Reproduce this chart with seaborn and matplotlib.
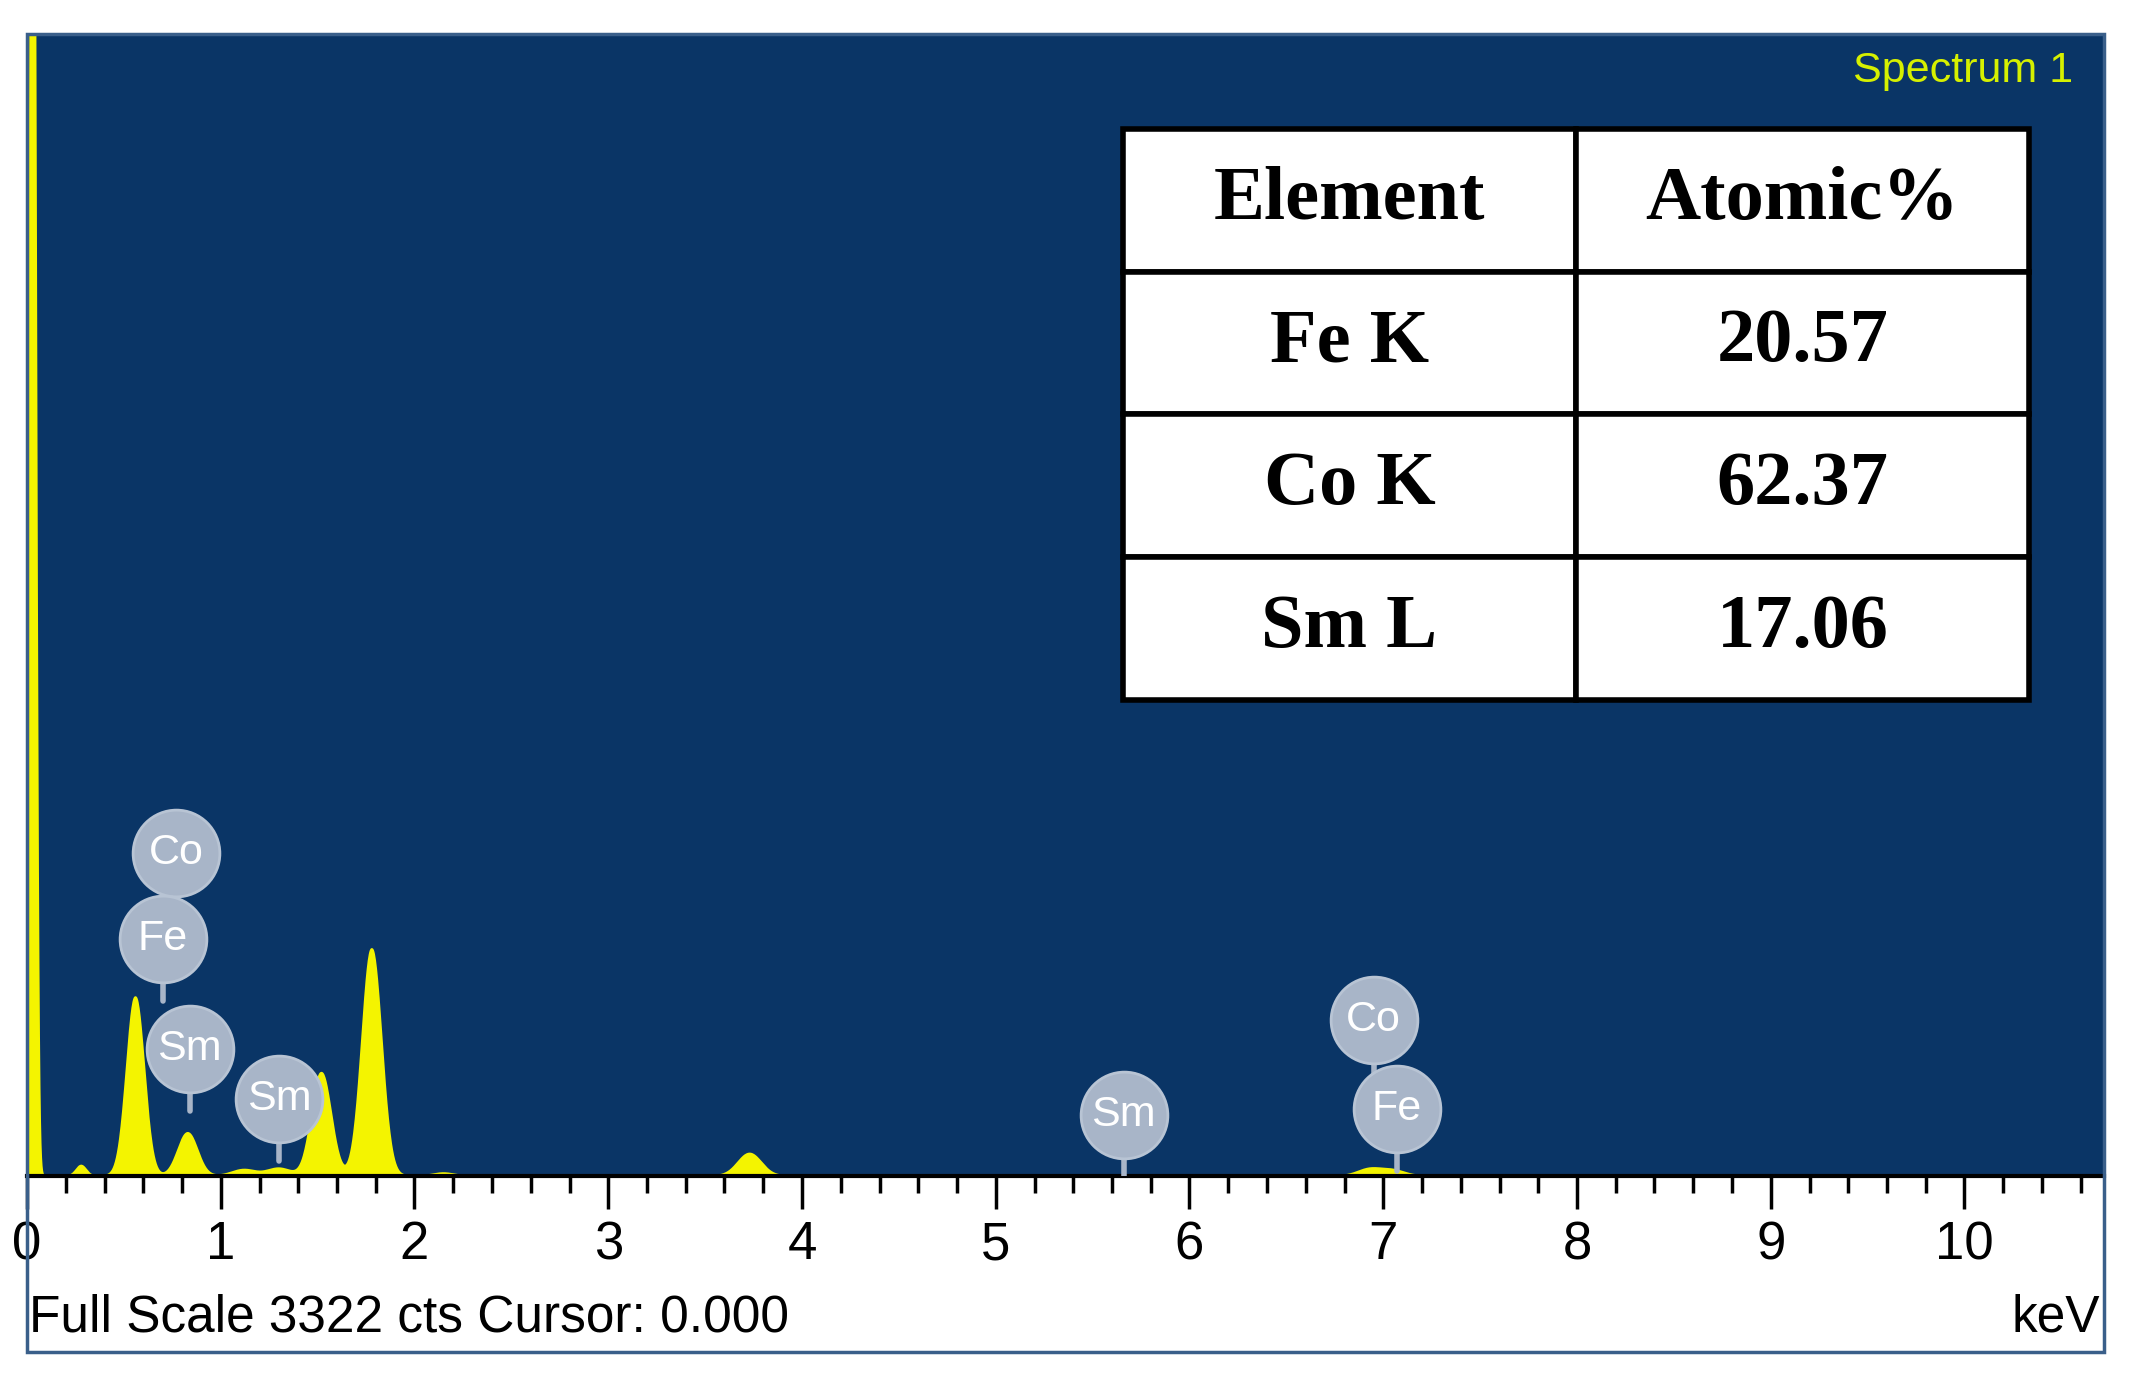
import numpy as np
import pandas as pd
import matplotlib
matplotlib.use("Agg")
import matplotlib.pyplot as plt
import seaborn as sns
from matplotlib.patches import Rectangle

sns.set_theme(style="white")
plt.rcParams['font.family'] = ['Liberation Sans', 'DejaVu Sans']
plt.rcParams['text.color'] = 'black'
plt.rcParams['xtick.color'] = 'black'

# Spectrum peaks (keV, counts, width keV)
peak_energy = [0.03, 0.28, 0.56, 0.83, 1.12, 1.30, 1.52, 1.78, 2.15, 3.73, 6.93, 7.05]
peak_counts = [5200, 30, 520, 125, 18, 22, 300, 660, 8, 65, 20, 16]
peak_width  = [0.014, 0.025, 0.045, 0.05, 0.06, 0.06, 0.05, 0.05, 0.05, 0.06, 0.06, 0.06]

full_scale = 3322
x_max = 10.72

# Element labels
label_text   = ["Co", "Fe", "Sm", "Sm", "Sm", "Co", "Fe"]
label_energy = [0.77, 0.70, 0.84, 1.30, 5.66, 6.95, 7.07]
label_counts = [941, 688, 368, 225, 178, 455, 194]

# Table
table_elements = ["Fe K", "Co K", "Sm L"]
table_atomic = ["20.57", "62.37", "17.06"]

tick_values = list(range(0, 11))

blue = "#0a3566"
yellow = "#f4f400"

W, H = 2131, 1379
fig = plt.figure(figsize=(W/100, H/100), dpi=100)
fig.patch.set_facecolor("white")
ax = fig.add_axes([27/W, 1-1176/H, (2104-27)/W, (1176-34)/H])
ax.set_facecolor(blue)

fig.patches.append(Rectangle((27/W, 1-1352/H), (2104-27)/W, (1352-34)/H,
                             transform=fig.transFigure, fill=False,
                             edgecolor="#3a5f8a", linewidth=2.5, zorder=0))

xs = np.linspace(0, x_max, 4000)
ys = np.zeros_like(xs)
for e, c, w in zip(peak_energy, peak_counts, peak_width):
    ys += c * np.exp(-0.5 * ((xs - e) / w) ** 2)
df = pd.DataFrame({"keV": xs, "cts": ys})
ax.fill_between(df["keV"], 0, df["cts"], color=yellow, linewidth=0)
sns.lineplot(data=df, x="keV", y="cts", ax=ax, color=yellow, linewidth=1.5)

ax.set_xlim(0, x_max)
ax.set_ylim(0, full_scale)
ax.set_xlabel("")
ax.set_ylabel("")
ax.set_yticks([])
ax.set_xticks(tick_values)
ax.set_xticks(np.arange(0, x_max, 0.2), minor=True)
ax.tick_params(axis="x", which="major", direction="out", length=24, width=2.5,
               color="black", labelsize=38, pad=8, bottom=True, labelcolor="black")
ax.tick_params(axis="x", which="minor", direction="out", length=12, width=2.5,
               color="black", bottom=True)
for s in ax.spines.values():
    s.set_visible(False)
ax.spines["bottom"].set_visible(True)
ax.spines["bottom"].set_color("black")
ax.spines["bottom"].set_linewidth(3)

ppc = (1176-34) / full_scale
for t, e, c in zip(label_text, label_energy, label_counts):
    ax.plot([e, e], [c - 40/ppc, c - 62/ppc], color="#a8b5c8", linewidth=4, zorder=4)
    ax.scatter([e], [c], s=3900, color="#a8b5c8", edgecolor="#b8c4d4", linewidth=2, zorder=5)
    ax.text(e, c, t, color="white", fontsize=31, ha="center", va="center", zorder=6)

ax.text(0.985, 0.985, "Spectrum 1", transform=ax.transAxes, color="#d6f000",
        fontsize=31, ha="right", va="top")

fig.text(27/W + 0.001, 1-1318/H, "Full Scale 3322 cts Cursor: 0.000", fontsize=37,
         ha="left", va="center", color="black")
fig.text(2100/W, 1-1318/H, "keV", fontsize=37, ha="right", va="center", color="black")

tx0, tx1, tx2 = 1123, 1576, 2029
ty = [129, 272, 414, 557, 700]
rows = [("Element", "Atomic%")] + list(zip(table_elements, table_atomic))
for i, (a, b) in enumerate(rows):
    for (x0, x1, txt) in [(tx0, tx1, a), (tx1, tx2, b)]:
        fig.patches.append(Rectangle((x0/W, 1-ty[i+1]/H), (x1-x0)/W, (ty[i+1]-ty[i])/H,
                                     transform=fig.transFigure, facecolor="white",
                                     edgecolor="black", linewidth=4, zorder=10))
        fig.text((x0+x1)/2/W, 1-(ty[i]+ty[i+1])/2/H, txt, fontsize=55,
                 family=["Liberation Serif", "DejaVu Serif"], weight="bold",
                 ha="center", va="center", zorder=11, color="black")

fig.savefig("out.png", dpi=100)
